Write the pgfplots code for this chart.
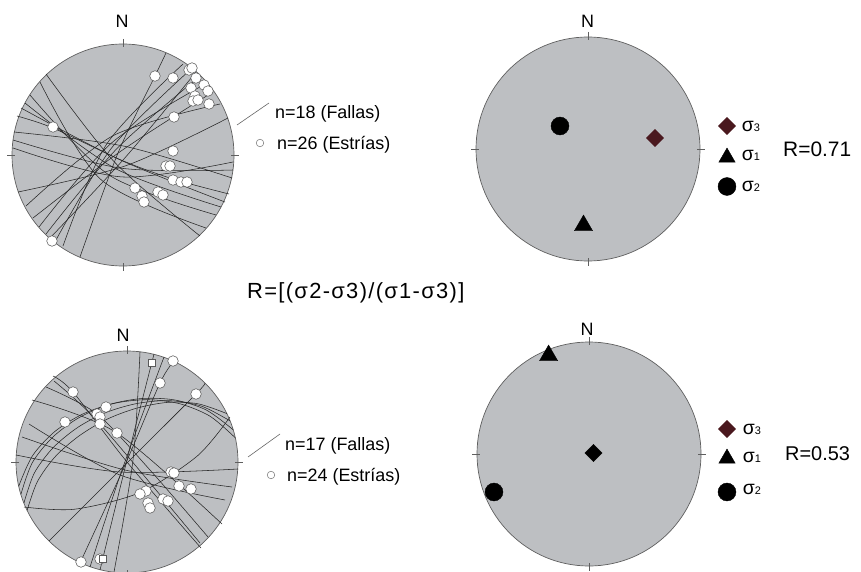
\documentclass[border=0pt]{standalone}
\usepackage{pgfplots}
\pgfplotsset{compat=1.18}
\usepackage{fontspec}
\setmainfont{Liberation Sans}
\definecolor{netgray}{RGB}{189,191,194}
\definecolor{rimgray}{RGB}{95,95,95}
\definecolor{sigred}{RGB}{74,24,30}
\newcommand{\sig}[1]{σ{\fontsize{11}{11}\selectfont #1}}
\pgfplotsset{
  gc/.style={no marks, smooth, line width=0.55bp, color=black!85},
  pt/.style={only marks, mark=*, mark size=5.3, mark options={fill=white, draw=black!65, line width=0.55bp}},
}
\begin{document}
\begin{tikzpicture}[x=1bp,y=1bp]
\begin{axis}[
  scale only axis, width=861bp, height=572bp,
  xmin=0, xmax=861, ymin=0, ymax=572, y dir=reverse,
  hide axis, clip=false,
]
% ---------- nets ----------
\fill[netgray, draw=rimgray, line width=0.7bp] (axis cs:123,155) circle[radius=111];
\fill[netgray, draw=rimgray, line width=0.7bp] (axis cs:588,149) circle[radius=112];
\fill[netgray, draw=rimgray, line width=0.7bp] (axis cs:127,462) circle[radius=111];
\fill[netgray, draw=rimgray, line width=0.7bp] (axis cs:589,454) circle[radius=112];

% ---------- top-left: fault planes (n=18) ----------
\addplot[gc] coordinates {(166,53) (155,76) (118,153) (80,257)};
\addplot[gc] coordinates {(190,70) (112.5,146.8) (56,240)};
\addplot[gc] coordinates {(200,76) (116.7,148.8) (46,234)};
\addplot[gc] coordinates {(207,83) (112.2,142.4) (39,227)};
\addplot[gc] coordinates {(213,92) (120.5,151.4) (33,218)};
\addplot[gc] coordinates {(220,104) (112.9,135.8) (26,206)};
\addplot[gc] coordinates {(228,118) (126.7,165.4) (18,192)};
\addplot[gc] coordinates {(183,64) (106.6,144.2) (63,246)};
\addplot[gc] coordinates {(196,72) (125.5,157.2) (50,238)};
\addplot[gc] coordinates {(46,74) (115,162.6) (200,236)};
\addplot[gc] coordinates {(17,116) (53,128) (121,160) (173,179) (229,194)};
\addplot[gc] coordinates {(30,95) (109.8,175.5) (216,215)};
\addplot[gc] coordinates {(13,140) (121.2,168.2) (233,170)};
\addplot[gc] coordinates {(13,148) (121.6,176.9) (233,162)};
\addplot[gc] coordinates {(21,108) (120.7,160.1) (225,202)};
\addplot[gc] coordinates {(14,132) (124.8,146.3) (232,178)};
\addplot[gc] coordinates {(40,82) (101.2,179.8) (206,228)};
\addplot[gc] coordinates {(25,103) (115.7,168.7) (221,207)};
% striae (n=26)
\addplot[pt] table {
x y
155 76
173 78
189 70
192 68
196 78
204 85
208 91
191 88
195 96
193 101
198 100
209 104
174 117
173 151
166 166
170 166
173 180
181 182
187 182
135 188
142 196
144 202
158 192
163 195
53 127
52 241
};

% ---------- bottom-left: fault planes (n=17) ----------
\addplot[gc] coordinates {(154,354) (127,460) (100,570)};
\addplot[gc] coordinates {(174,361) (160,383) (125,465) (80,563)};
\addplot[gc] coordinates {(164,357) (122,470) (90,567)};
\addplot[gc] coordinates {(140,352) (133,460) (114,572)};
\addplot[gc] coordinates {(205,383) (196,394) (125,465) (49,541)};
\addplot[gc] coordinates {(230,417) (197.3,456) (140.2,492.4) (74.7,509.2) (24,507)};
\addplot[gc] coordinates {(20.9,494.3) (32.2,462.9) (52.6,437.3) (78.9,417.7) (109.5,404.5) (142.2,398.5) (175,400) (206.3,410) (233.1,429.7)};
\addplot[gc] coordinates {(23.9,503.1) (34.3,473.1) (53.2,447.6) (78.2,427.1) (107.1,412.1) (138.5,403.2) (170.6,400.7) (201.9,406.3) (230.1,420.9)};
\addplot[gc] coordinates {(18.7,486.2) (32.4,455.9) (54.6,431.7) (82.4,414.2) (113.9,403.4) (147,399.7) (179.6,403.7) (210,416.2) (235.3,437.8)};
\addplot[gc] coordinates {(27.1,510.4) (37.3,481.8) (55.1,456.8) (78.8,436.1) (106.4,419.5) (136.5,408.2) (167.6,402.4) (198.1,403.8) (226.9,413.6)};
\addplot[gc] coordinates {(53,376) (73,392) (127,462) (201,548)};
\addplot[gc] coordinates {(32,400) (117,433) (222,524)};
\addplot[gc] coordinates {(16,455) (120,472) (238,469)};
\addplot[gc] coordinates {(22,437) (125,470) (232,487)};
\addplot[gc] coordinates {(29,424) (120,475) (225,500)};
\addplot[gc] coordinates {(46,387) (97,414) (150,470) (208,537)};
\addplot[gc] coordinates {(54,381) (100,424) (200,543)};
% striae (n=24)
\addplot[pt] table {
x y
173 361
160 383
196 394
73 392
106 407
97 414
100 417
100 424
65 422
117 433
171 472
174 473
179 486
191 489
146 491
140 494
148 503
150 508
163 499
168 501
81 562
100 559
};
\addplot[only marks, mark=square*, mark size=3.6, mark options={fill=white, draw=black!65, line width=0.55bp}]
  coordinates {(152,363) (103,559)};

% ---------- top-right: stress axes ----------
\addplot[only marks, mark=*, mark size=9, black] coordinates {(560,126)};
\addplot[only marks, mark=square*, mark size=6.1, mark options={rotate=45}, sigred] coordinates {(655,138)};
\addplot[only marks, mark=triangle*, mark size=10.5, black] coordinates {(583.5,225.5)};
% ---------- bottom-right: stress axes ----------
\addplot[only marks, mark=*, mark size=9, black] coordinates {(494,492)};
\addplot[only marks, mark=square*, mark size=6.1, mark options={rotate=45}, black] coordinates {(593.5,453)};
\addplot[only marks, mark=triangle*, mark size=10.5, black] coordinates {(548.6,355.5)};

% ---------- legend markers (right) ----------
\addplot[only marks, mark=square*, mark size=6.1, mark options={rotate=45}, sigred] coordinates {(727,126) (727,429)};
\addplot[only marks, mark=triangle*, mark size=9.5, black] coordinates {(727,157.5) (727,458.5)};
\addplot[only marks, mark=*, mark size=9, black] coordinates {(727,186.5) (727,492)};
% ---------- legend markers (left) ----------
\addplot[only marks, mark=o, mark size=3.8, black!55, line width=0.5bp] coordinates {(260,143) (271,475)};
\draw[black!60, line width=0.6bp] (axis cs:237,125) -- (axis cs:269,103);
\draw[black!60, line width=0.6bp] (axis cs:248,457) -- (axis cs:280,434);

% ---------- ticks ----------
\foreach \cx/\cy/\r in {123/155/111, 588/149/112, 127/462/111, 589/454/112}{
  \edef\tmp{\noexpand\draw[rimgray, line width=0.6bp]
    (axis cs:\cx,\cy-\r-5) -- (axis cs:\cx,\cy-\r+3)
    (axis cs:\cx,\cy+\r-3) -- (axis cs:\cx,\cy+\r+5)
    (axis cs:\cx-\r-5,\cy) -- (axis cs:\cx-\r+3,\cy)
    (axis cs:\cx+\r-3,\cy) -- (axis cs:\cx+\r+5,\cy);}
  \tmp
}

% ---------- texts ----------
\fontsize{18}{20}\selectfont
\node[anchor=base, inner sep=0] at (axis cs:122,28) {N};
\node[anchor=base, inner sep=0] at (axis cs:587.5,28) {N};
\node[anchor=base, inner sep=0] at (axis cs:123,341) {N};
\node[anchor=base, inner sep=0] at (axis cs:587,335) {N};

\node[anchor=base west, inner sep=0] at (axis cs:275,118) {n=18 (Fallas)};
\node[anchor=base west, inner sep=0] at (axis cs:277,149.3) {n=26 (Estrías)};
\node[anchor=base west, inner sep=0] at (axis cs:285,450) {n=17 (Fallas)};
\node[anchor=base west, inner sep=0] at (axis cs:287,481) {n=24 (Estrías)};

\node[anchor=base west, inner sep=0] at (axis cs:741.7,131.7) {\fontsize{19.5}{20}\selectfont\sig{3}};
\node[anchor=base west, inner sep=0] at (axis cs:741.7,160) {\fontsize{19.5}{20}\selectfont\sig{1}};
\node[anchor=base west, inner sep=0] at (axis cs:741.7,191.7) {\fontsize{19.5}{20}\selectfont\sig{2}};
\node[anchor=base west, inner sep=0] at (axis cs:742.7,434) {\fontsize{19.5}{20}\selectfont\sig{3}};
\node[anchor=base west, inner sep=0] at (axis cs:742.7,462.7) {\fontsize{19.5}{20}\selectfont\sig{1}};
\node[anchor=base west, inner sep=0] at (axis cs:742.7,494.3) {\fontsize{19.5}{20}\selectfont\sig{2}};

\node[anchor=base west, inner sep=0] at (axis cs:783,156.7) {\fontsize{21}{22}\selectfont R=0.71};
\node[anchor=base west, inner sep=0] at (axis cs:785,460.7) {\fontsize{20}{22}\selectfont R=0.53};
\node[anchor=base west, inner sep=0] at (axis cs:247,298) {\fontsize{22}{24}\selectfont\addfontfeature{LetterSpace=6}R=[(σ2-σ3)/(σ1-σ3)]};
\end{axis}
\pgfresetboundingbox
\useasboundingbox (0,0) rectangle (861bp,572bp);
\end{tikzpicture}
\end{document}
